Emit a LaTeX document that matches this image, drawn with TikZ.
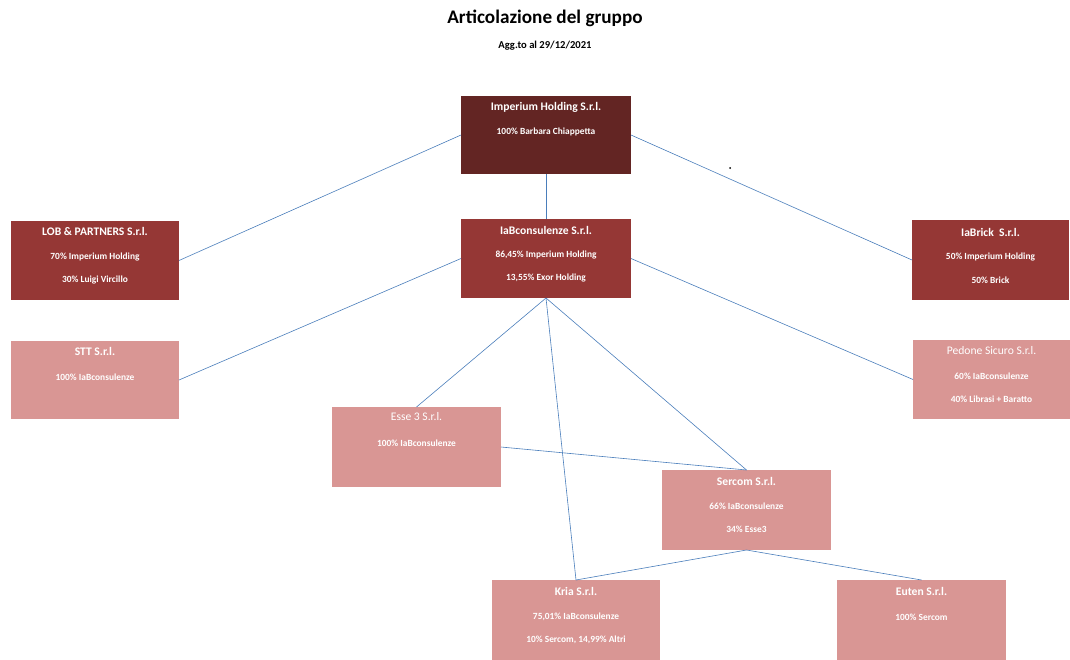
\documentclass[tikz,border=0pt]{standalone}
\usepackage{fontspec}
\setmainfont{Carlito}
\usetikzlibrary{positioning}
\definecolor{rossoscuro}{HTML}{632523}
\definecolor{rossomedio}{HTML}{953735}
\definecolor{rossochiaro}{HTML}{D99694}
\definecolor{linea}{HTML}{4A7EBB}

\begin{document}
\begin{tikzpicture}[x=1pt, y=-1pt,
    box/.style={anchor=north west, inner sep=0pt, outer sep=0pt, minimum width=169pt, minimum height=79pt},
    nome/.style={text=white, font=\fontsize{11.6}{13}\selectfont\bfseries},
    nomereg/.style={text=white, font=\fontsize{11.6}{13}\selectfont},
    quota/.style={text=white, font=\fontsize{9.4}{11}\selectfont\bfseries},
    link/.style={draw=linea, line width=0.6pt}]
        \useasboundingbox (0,0) rectangle (1070,659);

        % Titolo
        \node[font=\fontsize{19.2}{22}\selectfont\bfseries] (titolo) at (545,18) {Articolazione del gruppo};
        \node[font=\fontsize{10.6}{12}\selectfont\bfseries] (data) at (545,46) {Agg.to al 29/12/2021};

        % Societa
        \node[box, fill=rossoscuro, minimum width=170pt, minimum height=78pt] (imp) at (461,96) {};
        \node[box, fill=rossomedio, minimum width=168pt] (lob) at (11,221) {};
        \node[box, fill=rossomedio, minimum width=170pt] (iab) at (461,219) {};
        \node[box, fill=rossomedio, minimum width=157pt, minimum height=80pt] (brick) at (912,220) {};
        \node[box, fill=rossochiaro, minimum width=168pt, minimum height=78pt] (stt) at (11,341) {};
        \node[box, fill=rossochiaro, minimum height=80pt] (esse) at (332,407) {};
        \node[box, fill=rossochiaro, minimum width=157pt] (ped) at (913,340) {};
        \node[box, fill=rossochiaro, minimum height=80pt] (serc) at (662,470) {};
        \node[box, fill=rossochiaro, minimum width=168pt, minimum height=80pt] (kria) at (492,580) {};
        \node[box, fill=rossochiaro, minimum height=80pt] (euten) at (837,580) {};

        % Testi
        \node[nome] (imp-n) at ([yshift=-11pt]imp.north) {Imperium Holding S.r.l.};
        \node[quota] (imp-a) at ([yshift=-36pt]imp.north) {100\% Barbara Chiappetta};

        \node[nome] (lob-n) at ([yshift=-10pt]lob.north) {LOB \& PARTNERS S.r.l.};
        \node[quota] (lob-a) at ([yshift=-36pt]lob.north) {70\% Imperium Holding};
        \node[quota] (lob-b) at ([yshift=-59pt]lob.north) {30\% Luigi Vircillo};

        \node[nome] (iab-n) at ([yshift=-11pt]iab.north) {IaBconsulenze S.r.l.};
        \node[quota] (iab-a) at ([yshift=-36pt]iab.north) {86,45\% Imperium Holding};
        \node[quota] (iab-b) at ([yshift=-59pt]iab.north) {13,55\% Exor Holding};

        \node[nome] (brick-n) at ([yshift=-12pt]brick.north) {IaBrick\ \ S.r.l.};
        \node[quota] (brick-a) at ([yshift=-37pt]brick.north) {50\% Imperium Holding};
        \node[quota] (brick-b) at ([yshift=-60pt]brick.north) {50\% Brick};

        \node[nome] (stt-n) at ([yshift=-10pt]stt.north) {STT S.r.l.};
        \node[quota] (stt-a) at ([yshift=-36pt]stt.north) {100\% IaBconsulenze};

        \node[nomereg] (esse-n) at ([yshift=-10pt]esse.north) {Esse 3 S.r.l.};
        \node[quota] (esse-a) at ([yshift=-36pt]esse.north) {100\% IaBconsulenze};

        \node[nomereg] (ped-n) at ([yshift=-11pt]ped.north) {Pedone Sicuro S.r.l.};
        \node[quota] (ped-a) at ([yshift=-36pt]ped.north) {60\% IaBconsulenze};
        \node[quota] (ped-b) at ([yshift=-59pt]ped.north) {40\% Librasi + Baratto};

        \node[nome] (serc-n) at ([yshift=-11pt]serc.north) {Sercom S.r.l.};
        \node[quota] (serc-a) at ([yshift=-36pt]serc.north) {66\% IaBconsulenze};
        \node[quota] (serc-b) at ([yshift=-59pt]serc.north) {34\% Esse3};

        \node[nome] (kria-n) at ([yshift=-11pt]kria.north) {Kria S.r.l.};
        \node[quota] (kria-a) at ([yshift=-37pt]kria.north) {75,01\% IaBconsulenze};
        \node[quota] (kria-b) at ([yshift=-60pt]kria.north) {10\% Sercom, 14,99\% Altri};

        \node[nome] (euten-n) at ([yshift=-11pt]euten.north) {Euten S.r.l.};
        \node[quota] (euten-a) at ([yshift=-37pt]euten.north) {100\% Sercom};

        % Collegamenti
        \draw[link] (imp.west) -- (lob.east);
        \draw[link] (imp.east) -- (brick.west);
        \draw[link] (imp.south) -- (iab.north);
        \draw[link] (iab.west) -- (stt.east);
        \draw[link] (iab.east) -- (ped.west);
        \draw[link] (iab.south) -- (esse.north);
        \draw[link] (iab.south) -- (kria.north);
        \draw[link] (iab.south) -- (serc.north);
        \draw[link] (esse.east) -- (serc.north);
        \draw[link] (serc.south) -- (kria.north);
        \draw[link] (serc.south) -- (euten.north);

        % Punto
        \fill (730,168) circle (1pt);
\end{tikzpicture}
\end{document}
